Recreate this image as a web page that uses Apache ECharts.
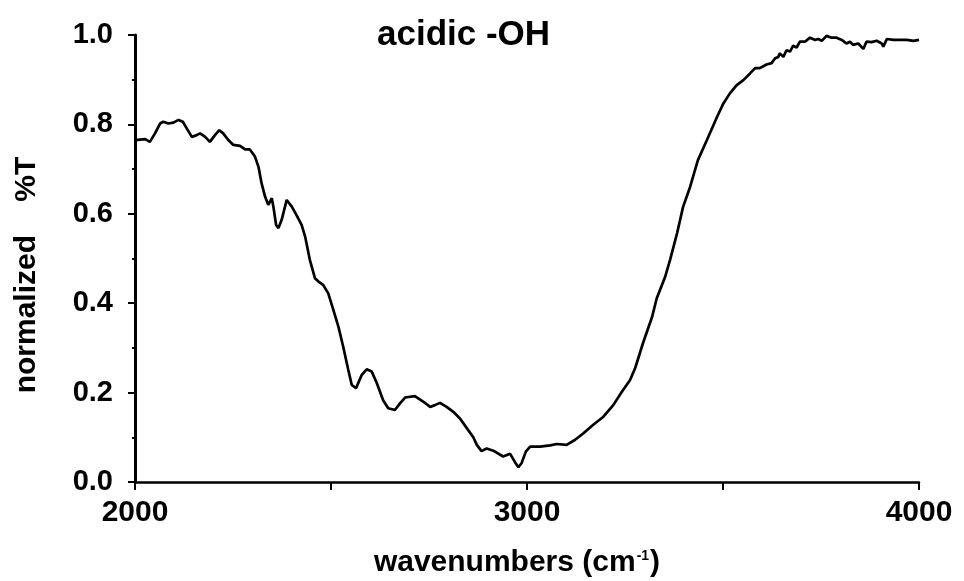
<!DOCTYPE html>
<html>
<head>
<meta charset="utf-8">
<script src="https://cdn.jsdelivr.net/npm/echarts@6/dist/echarts.min.js"></script>
<style>html,body{margin:0;padding:0;background:#fff}#chart{width:964px;height:581px}</style>
</head>
<body>
<div id="chart"></div>
<script>
const titleText = 'acidic -OH';
const xAxisLabel = 'wavenumbers (cm';
const yAxisLabel = 'normalized    %T';
const xTickLabels = [2000, 3000, 4000];

const wavenumbers = [
2000,2026,2038,2051,2064,2072,2085,2098,2111,2122,
2132,2145,2157,2166,2179,2191,2204,2215,2225,2238,
2251,2268,2281,2293,2306,2315,2323,2332,2340,2349,
2353,2360,2366,2374,2387,2400,2412,2425,2434,2446,
2459,2470,2480,2493,2506,2519,2531,2544,2553,2564,
2578,2591,2604,2617,2633,2646,2663,2676,2689,2714,
2735,2753,2765,2778,2795,2812,2829,2850,2863,2872,
2884,2897,2914,2939,2957,2969,2978,2986,2997,3008,
3033,3059,3076,3101,3122,3144,3169,3195,3220,3242,
3263,3276,3296,3319,3331,3352,3365,3383,3398,3416,
3436,3459,3485,3501,3518,3535,3552,3569,3582,3594,
3611,3624,3633,3641,3645,3654,3662,3671,3679,3688,
3696,3709,3722,3735,3743,3752,3764,3777,3790,3803,
3815,3824,3832,3845,3858,3866,3879,3892,3905,3909,
3918,3935,3952,3969,3986,4000
];

const transmittance = [
0.765,0.767,0.761,0.780,0.802,0.806,0.802,0.804,0.810,0.806,
0.791,0.772,0.776,0.780,0.772,0.761,0.776,0.787,0.780,0.765,
0.754,0.752,0.744,0.744,0.728,0.705,0.668,0.638,0.620,0.635,
0.616,0.575,0.568,0.586,0.631,0.616,0.597,0.575,0.549,0.497,
0.456,0.447,0.441,0.422,0.385,0.347,0.303,0.251,0.217,0.210,
0.239,0.252,0.247,0.221,0.183,0.165,0.161,0.176,0.189,0.192,
0.180,0.168,0.172,0.177,0.168,0.157,0.142,0.116,0.100,0.083,
0.069,0.075,0.070,0.057,0.063,0.045,0.033,0.042,0.068,0.079,
0.079,0.082,0.085,0.083,0.094,0.109,0.128,0.146,0.172,0.202,
0.228,0.255,0.311,0.369,0.411,0.458,0.497,0.557,0.615,0.660,
0.720,0.765,0.817,0.847,0.870,0.888,0.899,0.914,0.926,0.926,
0.934,0.937,0.948,0.951,0.959,0.951,0.966,0.963,0.976,0.972,
0.985,0.985,0.994,0.989,0.991,0.987,0.998,0.994,0.994,0.989,
0.981,0.985,0.978,0.981,0.969,0.985,0.984,0.987,0.981,0.974,
0.991,0.989,0.989,0.989,0.987,0.989
];

const FONT = '"Liberation Sans", Arial, Helvetica, sans-serif';
const chart = echarts.init(document.getElementById('chart'), null, {renderer: 'canvas'});
const seriesData = wavenumbers.map((w, i) => [w, transmittance[i]]);

chart.setOption({
  animation: false,
  backgroundColor: '#ffffff',
  title: {
    text: titleText,
    left: 372, top: 13,
    textStyle: {fontFamily: FONT, fontWeight: 'bold', fontSize: 35, color: '#000'}
  },
  grid: {left: 135, right: 45, top: 35, bottom: 99, containLabel: false},
  xAxis: {
    type: 'value', min: 2000, max: 4000, interval: 500,
    axisLine: {show: true, lineStyle: {color: '#000', width: 2.5}},
    axisTick: {show: true, length: 8, lineStyle: {color: '#000', width: 2}},
    splitLine: {show: false},
    axisLabel: {
      fontFamily: FONT, fontWeight: 'bold', fontSize: 30, color: '#000', margin: 16,
      formatter: v => xTickLabels.indexOf(v) >= 0 ? String(v) : ''
    }
  },
  yAxis: {
    type: 'value', min: 0, max: 1, interval: 0.2,
    axisLine: {show: true, lineStyle: {color: '#000', width: 3}},
    axisTick: {show: true, length: 7, lineStyle: {color: '#000', width: 2}},
    minorTick: {show: true, splitNumber: 2, length: 3, lineStyle: {color: '#000', width: 2}},
    splitLine: {show: false},
    axisLabel: {
      fontFamily: FONT, fontWeight: 'bold', fontSize: 29, color: '#000', margin: 22,
      formatter: v => v.toFixed(1)
    }
  },
  graphic: [
    {
      type: 'text', x: 27, y: 275, rotation: Math.PI / 2,
      style: {text: yAxisLabel, fontFamily: FONT, fontWeight: 'bold', fontSize: 30, fill: '#000',
              align: 'center', verticalAlign: 'middle'}
    },
    {
      type: 'text', x: 517, y: 563,
      style: {
        text: '{m|' + xAxisLabel + '}{s|-1}{m|)}',
        align: 'center', verticalAlign: 'middle',
        rich: {
          m: {fontFamily: FONT, fontWeight: 'bold', fontSize: 30, fill: '#000', color: '#000'},
          s: {fontFamily: FONT, fontWeight: 'bold', fontSize: 14, fill: '#000', color: '#000', padding: [0, 1, 14, 1]}
        }
      }
    }
  ],
  series: [{
    type: 'line', data: seriesData, showSymbol: false, symbol: 'none', smooth: false,
    lineStyle: {color: '#000', width: 2.7}
  }]
});
</script>
</body>
</html>
